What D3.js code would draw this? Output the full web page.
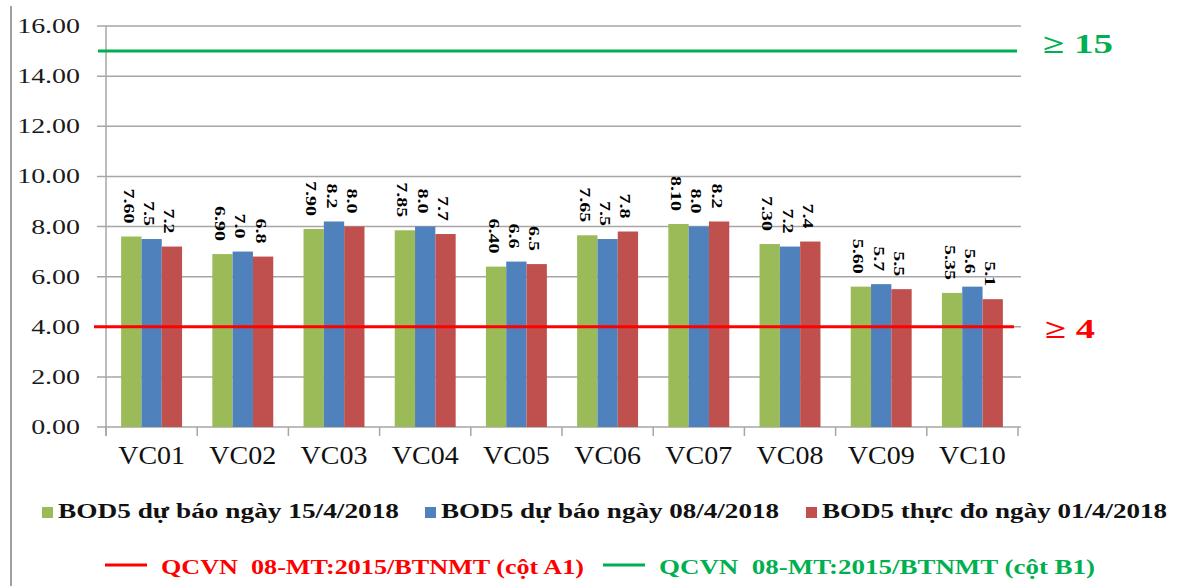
<!DOCTYPE html>
<html><head><meta charset="utf-8">
<script src="https://cdn.jsdelivr.net/npm/d3@7"></script>
<style>body{margin:0;background:#fff}svg{display:block}text{white-space:pre}</style>
</head><body>
<svg id="c" width="1180" height="586"></svg>
<script>
const categories = ["VC01","VC02","VC03","VC04","VC05","VC06","VC07","VC08","VC09","VC10"];
const seriesNames = ["BOD5 dự báo ngày 15/4/2018","BOD5 dự báo ngày 08/4/2018","BOD5 thực đo ngày 01/4/2018"];
const bod15 = [7.60,6.90,7.90,7.85,6.40,7.65,8.10,7.30,5.60,5.35];
const bod08 = [7.5,7.0,8.2,8.0,6.6,7.5,8.0,7.2,5.7,5.6];
const bod01 = [7.2,6.8,8.0,7.7,6.5,7.8,8.2,7.4,5.5,5.1];
const yTicks = [0,2,4,6,8,10,12,14,16];
const limitA1 = 4, limitB1 = 15;
const limitNames = ["QCVN  08-MT:2015/BTNMT (cột A1)","QCVN  08-MT:2015/BTNMT (cột B1)"];

const colors = ["#9BBB59","#4F81BD","#C0504D"];
const decimals = [2,1,1];
const values = [bod15,bod08,bod01];
const SX = 1.27;
const serif = "'Liberation Serif','Times New Roman',serif";

const svg = d3.select("#c");
const L = 106, R = 1018, T = 26, B = 427;
const x0 = d3.scaleBand().domain(categories).range([L,R]).padding(0);
const x1 = d3.scaleBand().domain([0,1,2]).range([0,x0.bandwidth()]).paddingInner(0).paddingOuter(0.745);
const y = d3.scaleLinear().domain([0,16]).range([B,T]);

// outer left border
svg.append("line").attr("x1",11).attr("x2",11).attr("y1",6).attr("y2",586).attr("stroke","#A0A0A0").attr("stroke-width",2);

// gridlines
svg.append("g").selectAll("line").data(yTicks.filter(d=>d>0)).join("line")
  .attr("x1",97).attr("x2",1021).attr("y1",d=>y(d)).attr("y2",d=>y(d))
  .attr("stroke","#A6A6A6").attr("stroke-width",1.5);
// axes
svg.append("line").attr("x1",L).attr("x2",L).attr("y1",T).attr("y2",436).attr("stroke","#A6A6A6").attr("stroke-width",1.5);
svg.append("line").attr("x1",97).attr("x2",1021).attr("y1",B).attr("y2",B).attr("stroke","#A6A6A6").attr("stroke-width",1.5);
svg.append("g").selectAll("line").data(d3.range(categories.length+1)).join("line")
  .attr("x1",i=>L+i*x0.step()).attr("x2",i=>L+i*x0.step()).attr("y1",B).attr("y2",436)
  .attr("stroke","#A6A6A6").attr("stroke-width",1.5);

// y tick labels
svg.append("g").selectAll("text").data(yTicks).join("text")
  .attr("transform",d=>`translate(80,${y(d)+7}) scale(${SX},1)`)
  .attr("text-anchor","end").attr("font-family",serif).attr("font-size",22).attr("fill","#1a1a1a")
  .text(d=>d3.format(".2f")(d));

// x labels
svg.append("g").selectAll("text").data(categories).join("text")
  .attr("transform",d=>`translate(${x0(d)+x0.bandwidth()/2},464) scale(1.12,1)`)
  .attr("text-anchor","middle").attr("font-family",serif).attr("font-size",25).attr("fill","#111")
  .text(d=>d);

// bars
const flat = [];
values.forEach((arr,s)=>arr.forEach((v,i)=>flat.push({s,cat:categories[i],v})));
svg.append("g").selectAll("rect").data(flat).join("rect")
  .attr("x",d=>x0(d.cat)+x1(d.s)).attr("width",x1.bandwidth())
  .attr("y",d=>y(d.v)).attr("height",d=>B-y(d.v)).attr("fill",d=>colors[d.s]);

// data labels (rotated)
svg.append("g").selectAll("text").data(flat).join("text")
  .attr("transform",d=>`translate(${x0(d.cat)+x1(d.s)+x1.bandwidth()/2 - 2},${y(d.v)-13}) rotate(90) scale(1,0.78)`)
  .attr("text-anchor","end").attr("dy","0.35em")
  .attr("font-family",serif).attr("font-weight","bold").attr("font-size",20).attr("fill","#000")
  .text(d=>d.v.toFixed(decimals[d.s]));

// limit lines
svg.append("line").attr("x1",94).attr("x2",1014).attr("y1",y(limitA1)).attr("y2",y(limitA1)).attr("stroke","#FF0000").attr("stroke-width",3);
svg.append("line").attr("x1",98).attr("x2",1017).attr("y1",y(limitB1)).attr("y2",y(limitB1)).attr("stroke","#00B050").attr("stroke-width",3);
svg.append("text").attr("x",1043).attr("y",53)
  .attr("font-family",serif).attr("font-weight","bold").attr("font-size",27).attr("fill","#00B050")
  .attr("textLength",70).attr("lengthAdjust","spacingAndGlyphs").text("≥ "+limitB1);
svg.append("text").attr("x",1045).attr("y",338)
  .attr("font-family",serif).attr("font-weight","bold").attr("font-size",27).attr("fill","#FF0000")
  .attr("textLength",50).attr("lengthAdjust","spacingAndGlyphs").text("≥ "+limitA1);

// legend row 1
const leg1x = [42,425,806];
const leg1len = [341,338,345];
const lg = svg.append("g");
seriesNames.forEach((n,i)=>{
  lg.append("rect").attr("x",leg1x[i]).attr("y",507).attr("width",11).attr("height",11).attr("fill",colors[i]);
  lg.append("text").attr("x",leg1x[i]+16).attr("y",518)
    .attr("textLength",leg1len[i]).attr("lengthAdjust","spacingAndGlyphs")
    .attr("font-family",serif).attr("font-weight","bold").attr("font-size",21).attr("fill","#111").text(n);
});
// legend row 2
const leg2x = [105,603];
const leg2len = [423,436];
const lcol = ["#FF0000","#00B050"];
limitNames.forEach((n,i)=>{
  lg.append("line").attr("x1",leg2x[i]).attr("x2",leg2x[i]+42).attr("y1",565).attr("y2",565).attr("stroke",lcol[i]).attr("stroke-width",3);
  lg.append("text").attr("x",leg2x[i]+56).attr("y",574)
    .attr("textLength",leg2len[i]).attr("lengthAdjust","spacingAndGlyphs")
    .attr("font-family",serif).attr("font-weight","bold").attr("font-size",21).attr("fill",lcol[i]).text(n);
});
</script>
</body></html>
